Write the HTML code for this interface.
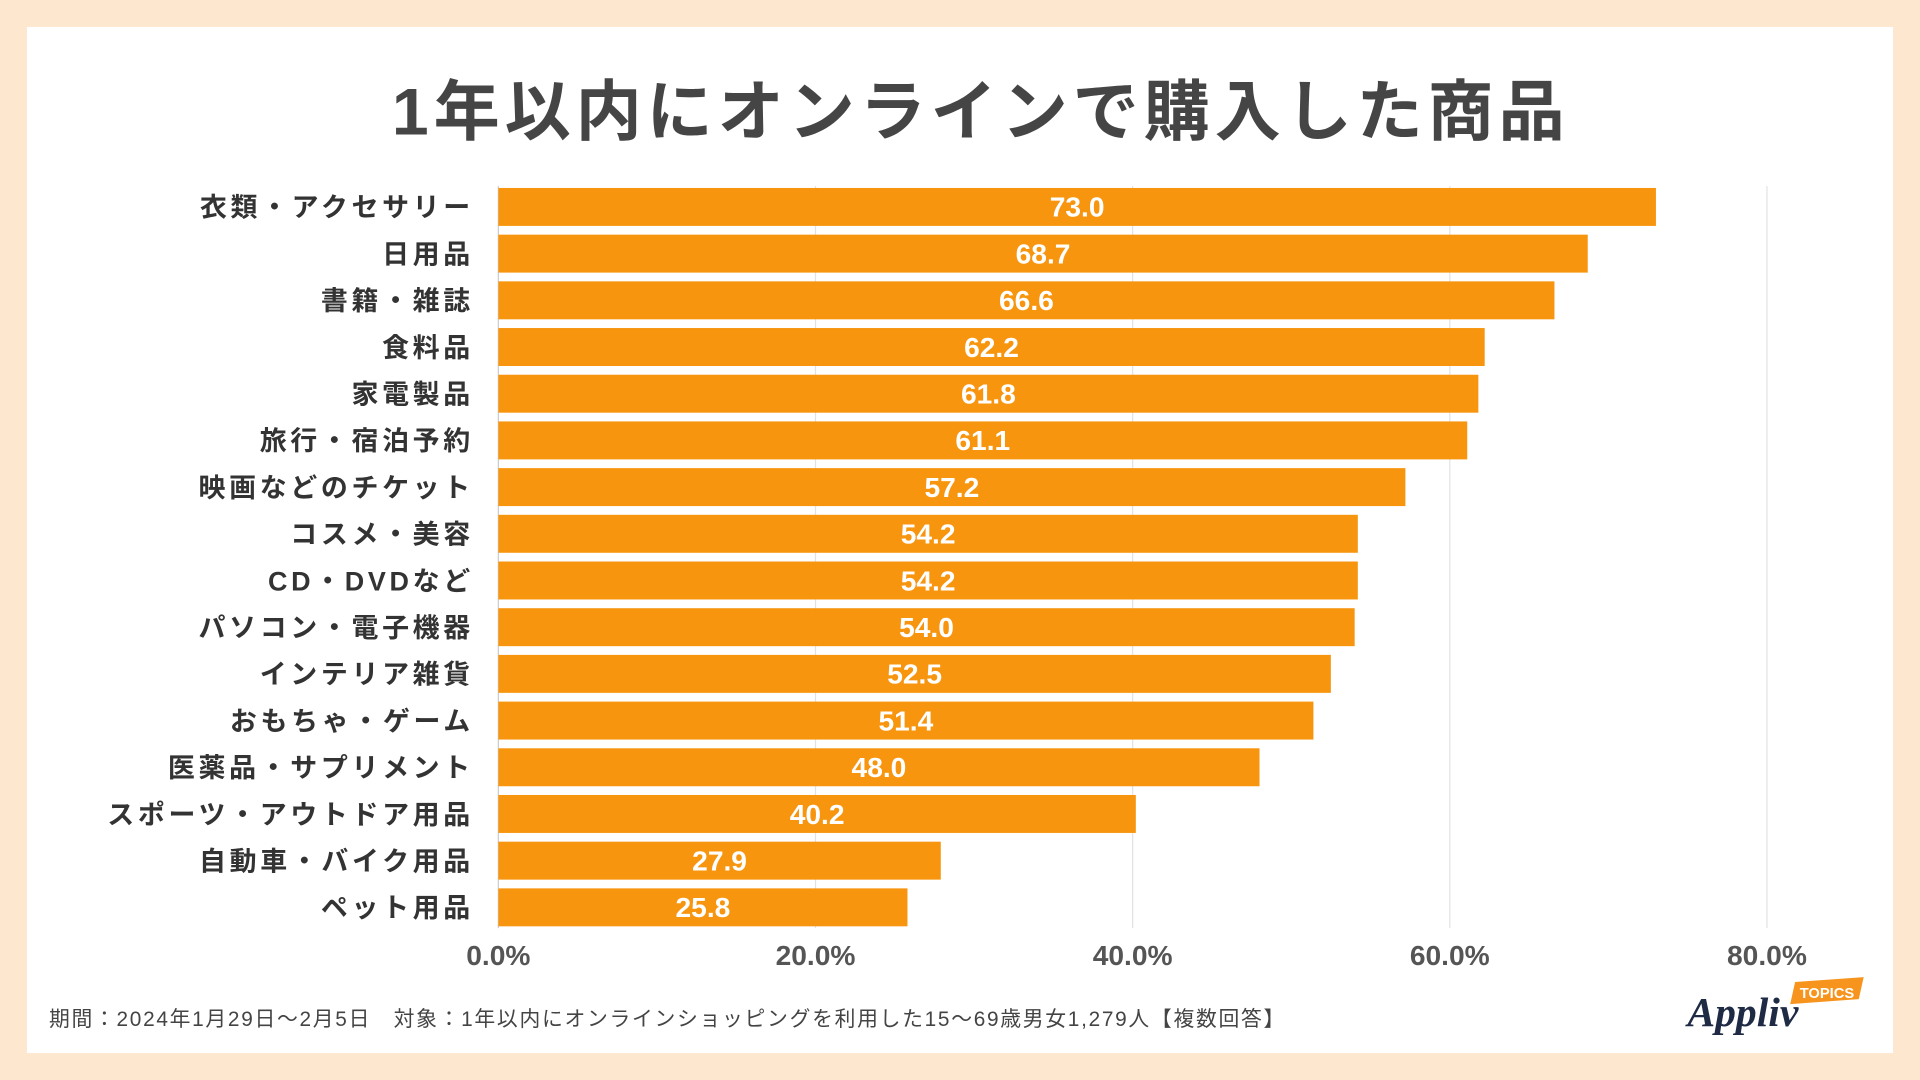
<!DOCTYPE html>
<html><head><meta charset="utf-8"><style>
html,body{margin:0;padding:0;width:1920px;height:1080px;overflow:hidden;background:#fde8cf}
svg{display:block}
text{font-family:"Liberation Sans","Noto Sans CJK JP",sans-serif}
</style></head><body>
<svg id="chart" width="1920" height="1080" viewBox="0 0 1568 882" xmlns="http://www.w3.org/2000/svg">
<rect x="0" y="0" width="1568" height="882" fill="#fde8cf"/>
<rect x="22" y="22" width="1524" height="838" fill="#ffffff"/>
<text x="801" y="110" text-anchor="middle" font-size="54" font-weight="bold" fill="#454545" letter-spacing="4">1年以内にオンラインで購入した商品</text>
<g id="grid"></g><g id="bars"></g><g id="labels"></g><g id="ticks"></g>
<text x="40" y="838" font-size="17" fill="#444" letter-spacing="1.4">期間：2024年1月29日～2月5日　対象：1年以内にオンラインショッピングを利用した15～69歳男女1,279人【複数回答】</text>
<g>
<text x="1378" y="838" font-size="34" font-style="italic" font-weight="bold" fill="#1f2a44" style="font-family:'Liberation Serif',serif">Appliv</text>
<polygon points="1466,802 1522,798 1518,816 1462,820" fill="#f7941d"/>
<text x="1492" y="815" text-anchor="middle" font-size="12" font-weight="bold" fill="#fff">TOPICS</text>
</g>
</svg>
<script>
const categories=["衣類・アクセサリー","日用品","書籍・雑誌","食料品","家電製品","旅行・宿泊予約","映画などのチケット","コスメ・美容","CD・DVDなど","パソコン・電子機器","インテリア雑貨","おもちゃ・ゲーム","医薬品・サプリメント","スポーツ・アウトドア用品","自動車・バイク用品","ペット用品"];
const values=[73.0,68.7,66.6,62.2,61.8,61.1,57.2,54.2,54.2,54.0,52.5,51.4,48.0,40.2,27.9,25.8];
const tickValues=[0,20,40,60,80];
const tickLabels=["0.0%","20.0%","40.0%","60.0%","80.0%"];
const NS="http://www.w3.org/2000/svg";
const x0=407,x1=1443,vmax=80,yTop=169,step=(741-169)/15,bh=31;
const xs=v=>x0+(x1-x0)*v/vmax;
const ys=i=>yTop+i*step;
function mk(tag,attrs,parent,txt){const e=document.createElementNS(NS,tag);for(const k in attrs)e.setAttribute(k,attrs[k]);if(txt!=null)e.textContent=txt;document.getElementById(parent).appendChild(e);return e;}
tickValues.forEach((t,i)=>{
 if(t>0){const g=mk('line',{x1:xs(t),x2:xs(t),y1:152,y2:758,stroke:'#e2e2e2','stroke-width':1},'grid');
 
 }
 const tl=mk('text',{x:xs(t),y:788,'text-anchor':'middle','font-size':23,'font-weight':'bold',fill:'#555'},'ticks',tickLabels[i]);
 
 
});
categories.forEach((c,i)=>{
 const y=ys(i);
 const r=mk('rect',{x:x0,y:y-bh/2,width:xs(values[i])-x0,height:bh,fill:'#f7950f'},'bars');
 
 
 const v=mk('text',{x:(x0+xs(values[i]))/2,y:y+8,'text-anchor':'middle','font-size':23,'font-weight':'bold',fill:'#fff'},'labels',values[i].toFixed(1));
 
 
 const l=mk('text',{x:387,y:y+8,'text-anchor':'end','font-size':22,'font-weight':'bold',fill:'#333','letter-spacing':3},'labels',c);
 
 
});
mk('line',{x1:x0,x2:x0,y1:152,y2:758,stroke:'#ccc','stroke-width':1},'grid');
</script>
</body></html>
